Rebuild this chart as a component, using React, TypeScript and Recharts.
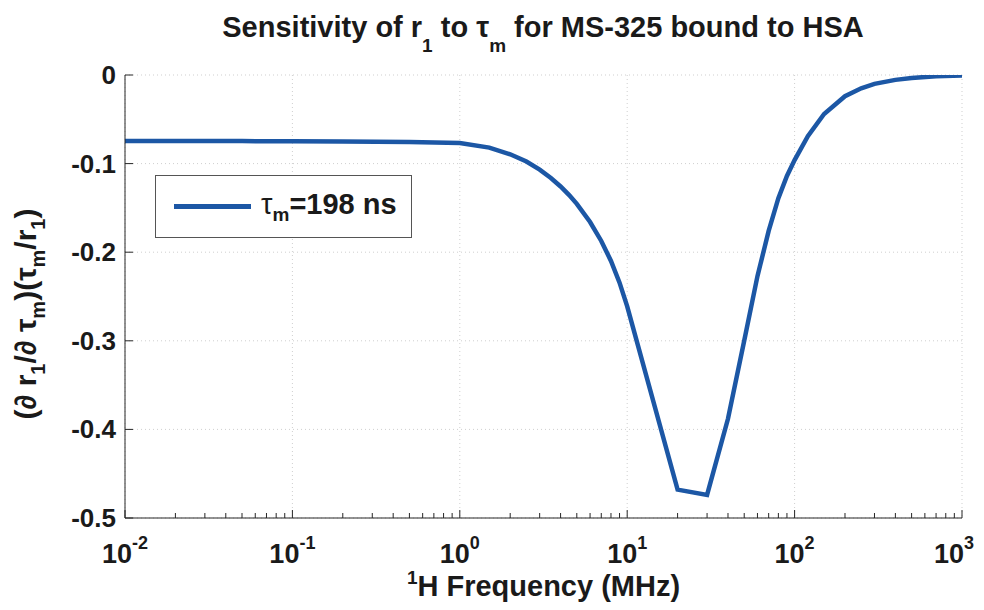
import { LineChart, Line, XAxis, YAxis, CartesianGrid } from 'recharts';

// 1H frequency in MHz and the normalised sensitivity
const freq = [
  0.01, 0.02, 0.05, 0.1, 0.2, 0.5, 1, 1.5, 2, 2.5, 3, 3.5, 4, 4.5, 5, 6, 7, 8, 9, 10,
  20, 30, 40, 50, 60, 70, 80, 90, 100, 120, 150, 200, 250, 300, 400, 500, 700, 1000,
];
const sens = [
  -0.0745, -0.0745, -0.0746, -0.0748, -0.0751, -0.0757, -0.0767, -0.082, -0.0895, -0.0977,
  -0.1068, -0.1162, -0.1258, -0.1355, -0.1454, -0.1659, -0.1873, -0.2099, -0.2344, -0.2611,
  -0.468, -0.474, -0.388, -0.3, -0.227, -0.176, -0.139, -0.114, -0.096, -0.069,
  -0.044, -0.024, -0.015, -0.01, -0.0055, -0.0033, -0.0015, -0.0007,
];

const xMajor = [0.01, 0.1, 1, 10, 100, 1000];
const xExp = ['-2', '-1', '0', '1', '2', '3'];
const xMinor = xMajor.slice(0, -1).flatMap((d) => [2, 3, 4, 5, 6, 7, 8, 9].map((k) => k * d));
const yTicks = [-0.5, -0.4, -0.3, -0.2, -0.1, 0];
const yLabels = ['-0.5', '-0.4', '-0.3', '-0.2', '-0.1', '0'];

const data = freq.map((f, i) => ({ f, r: sens[i] }));

const W = 968;
const H = 594;
const FONT = '"Liberation Sans", Arial, Helvetica, sans-serif';
const INK = '#262626';
const TXT = '#1a1a1a';
const BLUE = '#1c57a5';

function BottomTick({ x, y, payload }: any) {
  const i = xMajor.indexOf(payload.value);
  const last = i === xMajor.length - 1;
  return (
    <g>
      <line x1={x} x2={x} y1={y} y2={y - (i >= 0 ? 8 : 5)} stroke={INK} />
      {i >= 0 && (
        <text
          x={last ? x + 12 : x}
          y={y + 45}
          textAnchor={last ? 'end' : 'middle'}
          fontFamily={FONT}
          fontWeight="bold"
          fontSize={27}
          fill={TXT}
        >
          10
          <tspan dy={-14} fontSize={18}>{xExp[i]}</tspan>
        </text>
      )}
    </g>
  );
}

function TopTick({ x, y, payload }: any) {
  const major = xMajor.includes(payload.value);
  return <line x1={x} x2={x} y1={y} y2={y + (major ? 8 : 5)} stroke={INK} />;
}

function LeftTick({ x, y, payload }: any) {
  const i = yTicks.indexOf(payload.value);
  return (
    <g>
      <line x1={x} x2={x + 8} y1={y} y2={y} stroke={INK} />
      <text x={x - 9} y={y + 9} textAnchor="end" fontFamily={FONT} fontWeight="bold" fontSize={26} fill={TXT}>
        {yLabels[i]}
      </text>
    </g>
  );
}

function RightTick({ x, y }: any) {
  return <line x1={x} x2={x - 8} y1={y} y2={y} stroke={INK} />;
}

function YTitle() {
  const cx = 28;
  const cy = 306;
  return (
    <text
      x={cx}
      y={cy}
      transform={`rotate(-90 ${cx} ${cy})`}
      textAnchor="middle"
      fontFamily={FONT}
      fontWeight="bold"
      fontSize={30}
      fill={TXT}
    >
      (∂ r<tspan dy={9} fontSize={20}>1</tspan>
      <tspan dy={-9}>/∂ τ</tspan>
      <tspan dy={9} fontSize={20}>m</tspan>
      <tspan dy={-9}>)(τ</tspan>
      <tspan dy={9} fontSize={20}>m</tspan>
      <tspan dy={-9}>/r</tspan>
      <tspan dy={9} fontSize={20}>1</tspan>
      <tspan dy={-9}>)</tspan>
    </text>
  );
}

function XTitle({ viewBox }: any) {
  const cx = viewBox.x + viewBox.width / 2;
  return (
    <text x={cx} y={588} textAnchor="middle" fontFamily={FONT} fontWeight="bold" fontSize={29} fill={TXT}>
      <tspan fontSize={19} dy={-12}>1</tspan>
      <tspan dy={12}>H Frequency (MHz)</tspan>
    </text>
  );
}

export default function App() {
  return (
    <div style={{ position: 'relative', width: W, height: H, background: '#fff' }}>
      <style>{'svg { overflow: visible; }'}</style>
      <LineChart width={W} height={H} data={data} margin={{ top: 67, right: 14, bottom: 0, left: 0 }}>
        <CartesianGrid stroke="#cfcfcf" strokeDasharray="1 3" verticalValues={xMajor} horizontalValues={yTicks} />
        <XAxis
          dataKey="f"
          type="number"
          scale="log"
          domain={[0.01, 1000]}
          ticks={[...xMajor, ...xMinor]}
          allowDataOverflow
          height={84}
          tickSize={0}
          tickMargin={0}
          tickLine={false}
          stroke={INK}
          tick={BottomTick}
          interval={0}
          label={<XTitle />}
        />
        <XAxis
          xAxisId="top"
          orientation="top"
          type="number"
          scale="log"
          domain={[0.01, 1000]}
          ticks={[...xMajor, ...xMinor]}
          allowDataOverflow
          height={0}
          tickSize={0}
          tickMargin={0}
          tickLine={false}
          stroke={INK}
          tick={TopTick}
          interval={0}
        />
        <YAxis
          type="number"
          domain={[-0.5, 0]}
          ticks={yTicks}
          allowDataOverflow
          width={117}
          tickSize={0}
          tickMargin={0}
          tickLine={false}
          stroke={INK}
          tick={LeftTick}
          interval={0}
          label={<YTitle />}
        />
        <YAxis
          yAxisId="right"
          orientation="right"
          type="number"
          domain={[-0.5, 0]}
          ticks={yTicks}
          width={0}
          tickSize={0}
          tickMargin={0}
          tickLine={false}
          stroke={INK}
          tick={RightTick}
          interval={0}
        />
        <Line type="linear" dataKey="r" stroke={BLUE} strokeWidth={4.5} dot={false} isAnimationActive={false} />
      </LineChart>

      <svg width={W} height={60} style={{ position: 'absolute', left: 0, top: 0, pointerEvents: 'none' }}>
        <text x={535} y={29} textAnchor="middle" fontFamily={FONT} fontWeight="bold" fontSize={29} fill={TXT}>
          Sensitivity of r<tspan dy={15} fontSize={19}>1</tspan>
          <tspan dy={-15}> to τ</tspan>
          <tspan dy={15} fontSize={19}>m</tspan>
          <tspan dy={-15}> for MS-325 bound to HSA</tspan>
        </text>
      </svg>

      <div
        style={{
          position: 'absolute',
          left: 147,
          top: 167,
          width: 257,
          height: 63,
          boxSizing: 'border-box',
          border: '1px solid #555',
          background: '#fff',
          display: 'flex',
          alignItems: 'center',
          fontFamily: FONT,
          fontWeight: 'bold',
          fontSize: 29,
          color: TXT,
        }}
      >
        <span style={{ display: 'inline-block', width: 77, height: 4.5, background: BLUE, marginLeft: 18, marginRight: 10 }} />
        <span style={{ whiteSpace: 'nowrap' }}>
          <span style={{ fontWeight: 'normal' }}>τ</span>
          <sub style={{ fontSize: 19 }}>m</sub>=198 ns
        </span>
      </div>
    </div>
  );
}
